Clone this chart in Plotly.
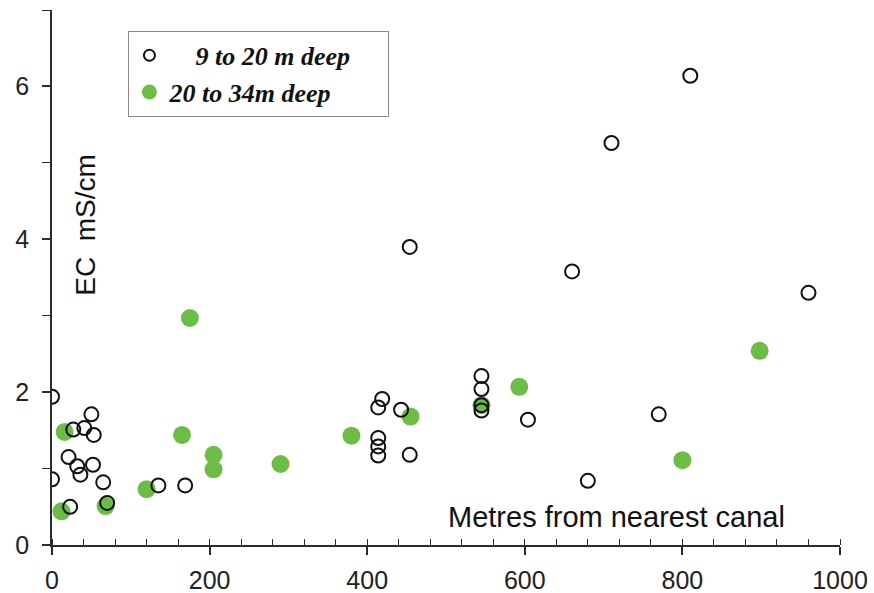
import plotly.graph_objects as go

# 9 to 20 m deep (open circles)
shallow_x = [0, 0, 27, 41, 50, 53, 21, 32, 36, 52, 65, 23, 70, 135, 169,
             419, 414, 414, 414, 414, 443, 454, 454, 545, 545, 545, 545,
             604, 660, 680, 710, 770, 810, 960]
shallow_y = [1.94, 0.86, 1.51, 1.53, 1.71, 1.44, 1.15, 1.03, 0.92, 1.05, 0.82, 0.50, 0.55, 0.78, 0.78,
             1.91, 1.80, 1.40, 1.29, 1.17, 1.77, 3.90, 1.18, 2.21, 2.04, 1.83, 1.76,
             1.64, 3.58, 0.84, 5.26, 1.71, 6.14, 3.30]

# 20 to 34 m deep (filled green)
deep_x = [12, 16, 68, 120, 165, 175, 205, 205, 290, 380, 455, 545, 593, 800, 898]
deep_y = [0.44, 1.48, 0.51, 0.73, 1.44, 2.97, 1.18, 0.99, 1.06, 1.43, 1.68, 1.83, 2.07, 1.11, 2.54]

x_ticks = [0, 200, 400, 600, 800, 1000]
y_ticks = [0, 2, 4, 6]

GREEN = "#6cbd45"
AXIS = "#2b2b2b"
SANS = "Liberation Sans, Arial, sans-serif"
SERIF = "Liberation Serif, Times New Roman, serif"
NB = "\u00a0"

fig = go.Figure()

fig.add_trace(go.Scatter(
    x=deep_x, y=deep_y, mode="markers", showlegend=False,
    marker=dict(size=18, color=GREEN, line=dict(width=0)),
))
fig.add_trace(go.Scatter(
    x=shallow_x, y=shallow_y, mode="markers", showlegend=False,
    marker=dict(size=14, color="rgba(0,0,0,0)", line=dict(width=2, color="#111111")),
))

# legend-only entries
fig.add_trace(go.Scatter(
    x=[None], y=[None], mode="markers", name=NB * 4 + "9 to 20 m deep" + NB * 5,
    legendgroup="a",
    marker=dict(size=11, color="rgba(0,0,0,0)", line=dict(width=2, color="#111111")),
))
fig.add_trace(go.Scatter(
    x=[None], y=[None], mode="markers", name="20 to 34m deep",
    legendgroup="b",
    marker=dict(size=15, color=GREEN, line=dict(width=0)),
))

fig.update_layout(
    width=874, height=593,
    margin=dict(l=51.5, r=34, t=10.3, b=48, autoexpand=False),
    paper_bgcolor="white", plot_bgcolor="white",
    showlegend=True,
    legend=dict(
        x=0.097, y=0.961, xanchor="left", yanchor="top",
        bgcolor="white", bordercolor="#8a8a8a", borderwidth=1,
        font=dict(family=SERIF, size=26, color="#111111", weight="bold", style="italic"),
        traceorder="grouped", tracegroupgap=0,
        itemsizing="trace",
    ),
    xaxis=dict(
        range=[0, 1000], tickvals=x_ticks, ticktext=[str(v) for v in x_ticks],
        showgrid=False, zeroline=False, automargin=False,
        showline=True, linecolor=AXIS, linewidth=1.5,
        ticks="outside", ticklen=8, tickwidth=1.5, tickcolor=AXIS,
        ticklabelstandoff=4,
        tickfont=dict(family=SANS, size=25, color="#222222"),
        minor=dict(dtick=40, tick0=0, ticks="inside", ticklen=6, tickwidth=1.2, tickcolor=AXIS),
    ),
    yaxis=dict(
        range=[0, 7], tickvals=y_ticks, ticktext=[str(v) for v in y_ticks],
        showgrid=False, zeroline=False, automargin=False,
        showline=True, linecolor=AXIS, linewidth=1.5,
        ticks="outside", ticklen=8, tickwidth=1.5, tickcolor=AXIS,
        ticklabelstandoff=8,
        tickfont=dict(family=SANS, size=25, color="#222222"),
        minor=dict(dtick=1, tick0=0, ticks="outside", ticklen=8, tickwidth=1.2, tickcolor=AXIS),
    ),
    annotations=[
        dict(text="Metres from nearest canal", xref="paper", yref="paper",
             x=0.717, y=0.052, xanchor="center", yanchor="middle", showarrow=False,
             font=dict(family=SANS, size=29, color="#111111")),
        dict(text="EC" + NB + NB + "mS/cm", xref="paper", yref="paper", textangle=-90,
             x=0.0415, y=0.598, xanchor="center", yanchor="middle", showarrow=False,
             font=dict(family=SANS, size=28, color="#111111")),
    ],
)

fig.write_html("out.html")
